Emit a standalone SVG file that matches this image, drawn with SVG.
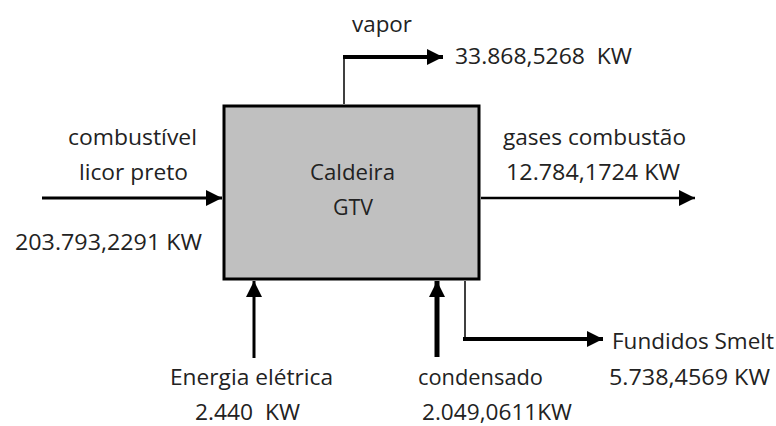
<svg xmlns="http://www.w3.org/2000/svg" width="776" height="426" viewBox="0 0 776 426">
<defs>
<marker id="ah" viewBox="0 0 10 10" refX="10" refY="5" markerWidth="16" markerHeight="16" markerUnits="userSpaceOnUse" orient="auto"><path d="M0,0 L10,5 L0,10 Z" fill="#000"/></marker>
</defs>
<style>
text{font-family:"Open Sans","Noto Sans",sans-serif;font-size:21px;fill:#222;white-space:pre}
.m{text-anchor:middle}
.ln{stroke:#000;fill:none}
</style>
<rect width="776" height="426" fill="#fff"/>
<g id="caldeira">
<rect x="224" y="106" width="255" height="173" fill="#c0c0c0" stroke="#000" stroke-width="3"/>
<text x="310" y="180" textLength="85" lengthAdjust="spacingAndGlyphs">Caldeira</text>
<text x="333" y="215" textLength="40" lengthAdjust="spacingAndGlyphs">GTV</text>
</g>
<g id="connectors">
<path class="ln" d="M344,104 V57" stroke-width="1.5"/>
<path class="ln" d="M343,57 H443" stroke-width="4" marker-end="url(#ah)"/>
<path class="ln" d="M42,198 H222" stroke-width="3" marker-end="url(#ah)"/>
<path class="ln" d="M481,198 H695" stroke-width="2.5" marker-end="url(#ah)"/>
<path class="ln" d="M254,358 V281" stroke-width="3" marker-end="url(#ah)"/>
<path class="ln" d="M437,357 V281" stroke-width="5" marker-end="url(#ah)"/>
<path class="ln" d="M465,281 V339" stroke-width="1.5"/>
<path class="ln" d="M463,339 H603" stroke-width="4" marker-end="url(#ah)"/>
</g>
<g id="vapor"><text x="352" y="32" textLength="60" lengthAdjust="spacingAndGlyphs">vapor</text><text x="455" y="64" textLength="177" lengthAdjust="spacingAndGlyphs">33.868,5268  KW</text></g>
<g id="combustivel"><text x="68" y="145" textLength="129" lengthAdjust="spacingAndGlyphs">combustível</text><text x="79" y="180" textLength="109" lengthAdjust="spacingAndGlyphs">licor preto</text><text x="15" y="250" textLength="187" lengthAdjust="spacingAndGlyphs">203.793,2291 KW</text></g>
<g id="gases"><text x="503" y="145" textLength="183" lengthAdjust="spacingAndGlyphs">gases combustão</text><text x="506" y="180" textLength="174" lengthAdjust="spacingAndGlyphs">12.784,1724 KW</text></g>
<g id="energia"><text x="170" y="385" textLength="163" lengthAdjust="spacingAndGlyphs">Energia elétrica</text><text x="195" y="420" textLength="105" lengthAdjust="spacingAndGlyphs">2.440  KW</text></g>
<g id="condensado"><text x="418" y="385" textLength="125" lengthAdjust="spacingAndGlyphs">condensado</text><text x="422" y="420" textLength="150" lengthAdjust="spacingAndGlyphs">2.049,0611KW</text></g>
<g id="fundidos"><text x="612" y="349" textLength="162" lengthAdjust="spacingAndGlyphs">Fundidos Smelt</text><text x="609" y="385" textLength="161" lengthAdjust="spacingAndGlyphs">5.738,4569 KW</text></g>
</svg>
